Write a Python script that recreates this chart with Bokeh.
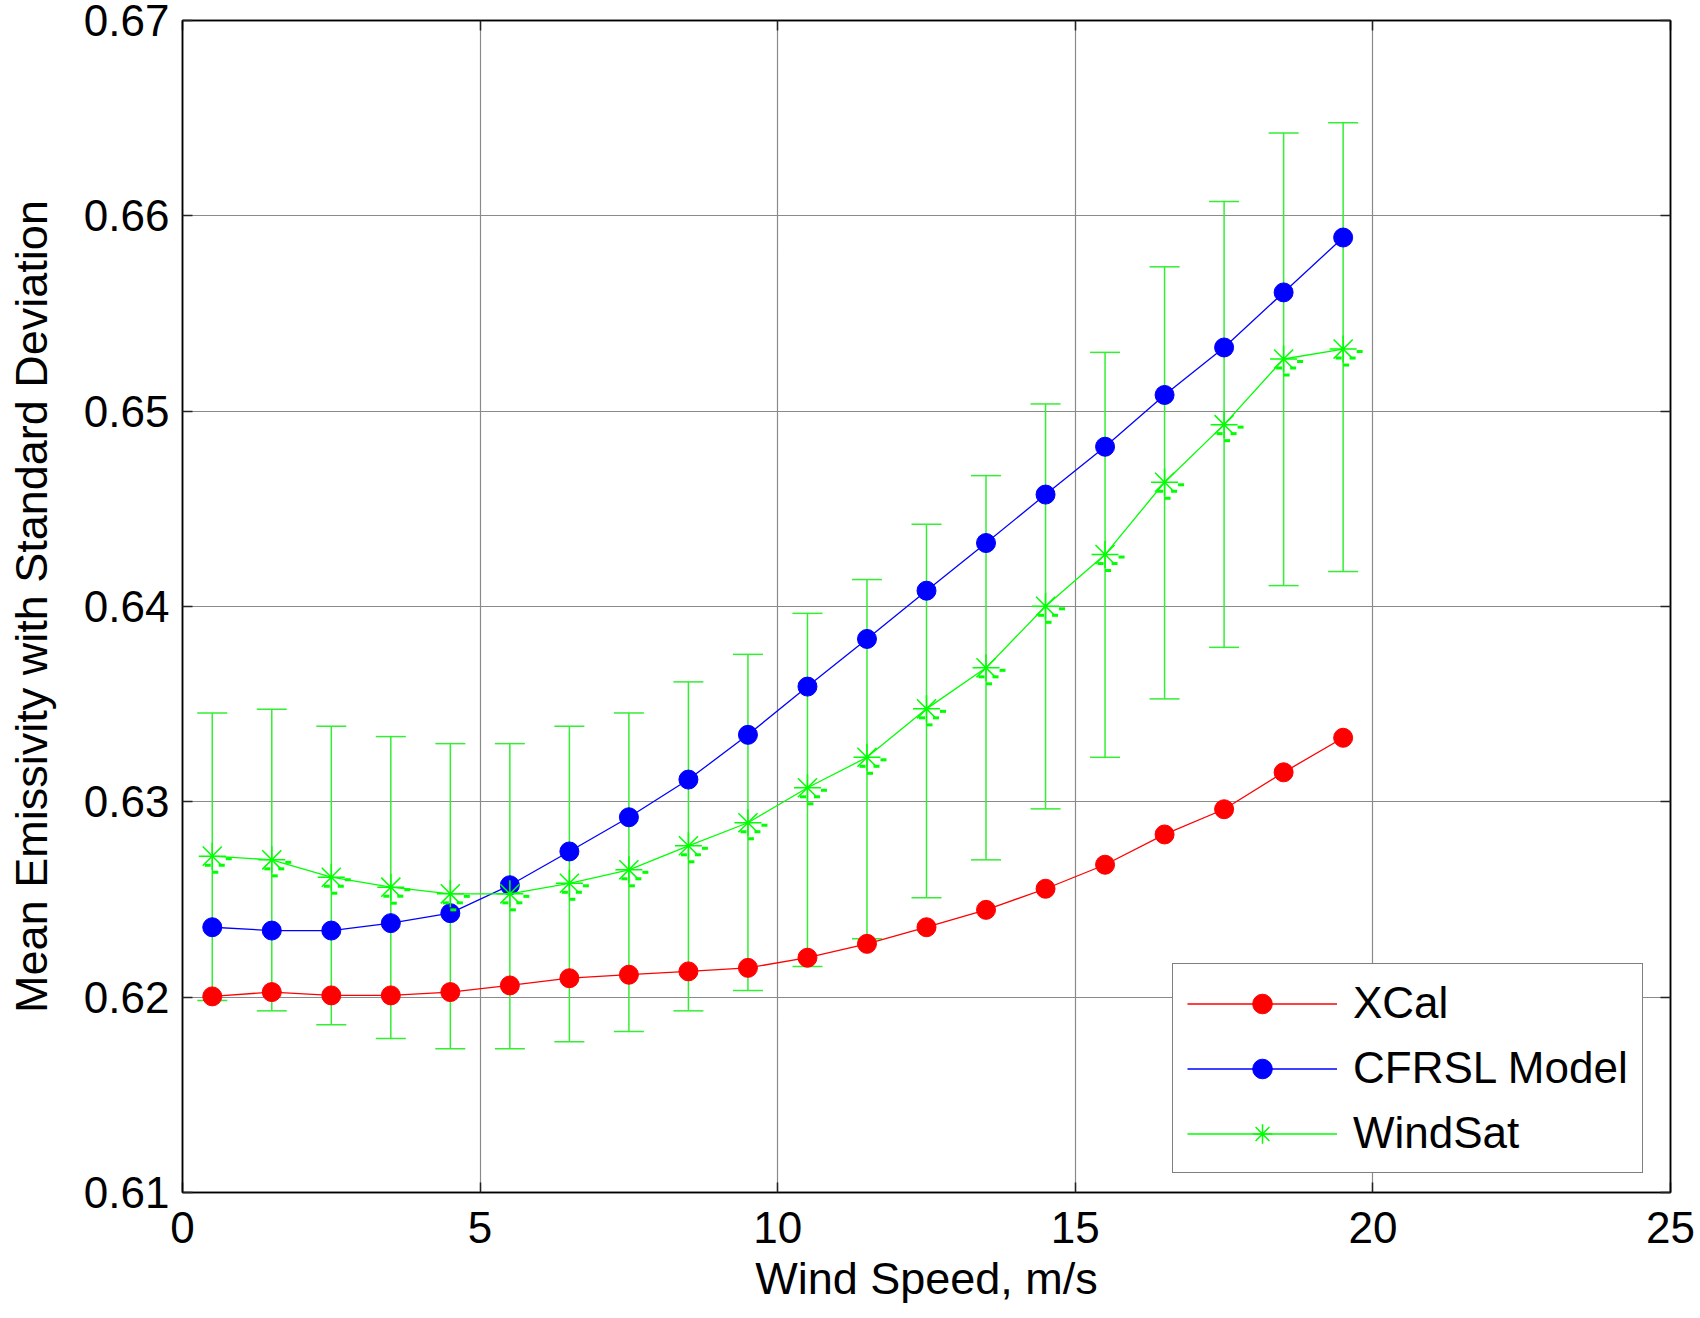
from bokeh.plotting import figure
from bokeh.models import (Range1d, LinearAxis, FixedTicker, PrintfTickFormatter,
                          Whisker, TeeHead, ColumnDataSource, Legend, LegendItem,
                          CustomLabelingPolicy)
from bokeh.embed import file_html
from bokeh.resources import INLINE

# ---------------- data ----------------
wind_speed = [0.5, 1.5, 2.5, 3.5, 4.5, 5.5, 6.5, 7.5, 8.5, 9.5,
              10.5, 11.5, 12.5, 13.5, 14.5, 15.5, 16.5, 17.5, 18.5, 19.5]

xcal = [0.62004, 0.62026, 0.62009, 0.62009, 0.62026, 0.62060, 0.62097, 0.62115, 0.62132, 0.62150,
        0.62202, 0.62273, 0.62358, 0.62447, 0.62555, 0.62678, 0.62833, 0.62962, 0.63151, 0.63328]

cfrsl = [0.62358, 0.62341, 0.62341, 0.62379, 0.62430, 0.62573, 0.62746, 0.62921, 0.63114, 0.63343,
         0.63590, 0.63834, 0.64081, 0.64325, 0.64573, 0.64818, 0.65083, 0.65326, 0.65608, 0.65889]

windsat = [0.62722, 0.62703, 0.62614, 0.62563, 0.62529, 0.62529, 0.62583, 0.62652, 0.62775, 0.62893,
           0.63072, 0.63228, 0.63476, 0.63686, 0.64001, 0.64266, 0.64636, 0.64931, 0.65267, 0.65318]

windsat_upper = [0.63455, 0.63474, 0.63387, 0.63334, 0.63298, 0.63298, 0.63387, 0.63455, 0.63614, 0.63755,
                 0.63965, 0.64138, 0.64421, 0.64670, 0.65037, 0.65301, 0.65739, 0.66073, 0.66424, 0.66476]

windsat_lower = [0.61983, 0.61930, 0.61859, 0.61789, 0.61736, 0.61736, 0.61772, 0.61824, 0.61930, 0.62034,
                 0.62157, 0.62299, 0.62509, 0.62703, 0.62964, 0.63228, 0.63527, 0.63791, 0.64107, 0.64179]

x_ticks = [0, 5, 10, 15, 20, 25]
y_ticks = [0.61, 0.62, 0.63, 0.64, 0.65, 0.66, 0.67]
x_label = "Wind Speed, m/s"
y_label = "Mean Emissivity with Standard Deviation"
series_names = ["XCal", "CFRSL Model", "WindSat"]

# ---------------- layout ----------------
W, H = 1700, 1318
BL, BR, BT, BB = 182, 30, 20, 126
FONT = "Liberation Sans"
X_MIN, X_MAX, Y_MIN, Y_MAX = 0, 25, 0.61, 0.67

p = figure(width=W, height=H, x_range=Range1d(X_MIN, X_MAX), y_range=Range1d(Y_MIN, Y_MAX),
           output_backend="svg", toolbar_location=None,
           min_border_left=BL, min_border_right=BR, min_border_top=BT, min_border_bottom=BB,
           x_axis_label=x_label, y_axis_label=y_label)
p.background_fill_color = "white"
p.border_fill_color = "white"
p.outline_line_color = "black"
p.outline_line_width = 1.5

no_labels = CustomLabelingPolicy(code="""
    for (const i of Array.from(indices)) { indices.unset(i) }
    return indices
""")

def style_axis(ax, ticks, fmt, labels=True):
    ax.ticker = FixedTicker(ticks=ticks)
    ax.formatter = PrintfTickFormatter(format=fmt)
    ax.axis_line_color = "black"
    ax.axis_line_width = 1.5
    ax.major_tick_in = 10
    ax.major_tick_out = 0
    ax.major_tick_line_color = "#222222"
    ax.major_tick_line_width = 1.5
    ax.minor_tick_in = 0
    ax.minor_tick_out = 0
    ax.major_label_text_font = FONT
    ax.major_label_text_color = "black"
    if labels:
        ax.major_label_text_font_size = "44px"
    else:
        ax.major_label_text_font_size = "1px"
        ax.major_label_standoff = 0
        ax.major_label_policy = no_labels

style_axis(p.xaxis[0], x_ticks, "%d")
style_axis(p.yaxis[0], y_ticks, "%.2f")
p.xaxis[0].major_label_standoff = 19
p.yaxis[0].major_label_standoff = 13
for ax in (p.xaxis[0], p.yaxis[0]):
    ax.axis_label_text_font = FONT
    ax.axis_label_text_font_size = "45px"
    ax.axis_label_text_font_style = "normal"
    ax.axis_label_text_color = "black"
p.xaxis[0].axis_label_standoff = 7
p.yaxis[0].axis_label_standoff = 24

top_ax = LinearAxis()
style_axis(top_ax, x_ticks, "%d", labels=False)
p.add_layout(top_ax, "above")
right_ax = LinearAxis()
style_axis(right_ax, y_ticks, "%.2f", labels=False)
p.add_layout(right_ax, "right")

p.xgrid.ticker = FixedTicker(ticks=x_ticks)
p.ygrid.ticker = FixedTicker(ticks=y_ticks)
for g in (p.xgrid[0], p.ygrid[0]):
    g.grid_line_color = "#8a8a8a"
    g.grid_line_width = 1.2
    g.grid_line_alpha = 1.0

# ---------------- error bars ----------------
src = ColumnDataSource(dict(x=wind_speed, xcal=xcal, cfrsl=cfrsl, ws=windsat,
                            upper=windsat_upper, lower=windsat_lower))
eb_color = "#33ee33"
whisk = Whisker(source=src, base="x", upper="upper", lower="lower",
                line_color=eb_color, line_width=1.5,
                upper_head=TeeHead(size=30, line_color=eb_color, line_width=1.5),
                lower_head=TeeHead(size=30, line_color=eb_color, line_width=1.5))
p.add_layout(whisk)

# ---------------- series ----------------
r_line = p.line("x", "xcal", source=src, line_color="#ff0000", line_width=1.3)
r_dot = p.scatter("x", "xcal", source=src, marker="circle", size=19,
                  fill_color="#ff0000", line_color="#ff0000")
b_line = p.line("x", "cfrsl", source=src, line_color="#0000ff", line_width=1.3)
b_dot = p.scatter("x", "cfrsl", source=src, marker="circle", size=19,
                  fill_color="#0000ff", line_color="#0000ff")
g_line = p.line("x", "ws", source=src, line_color="#00ff00", line_width=1.3)
g_star = p.scatter("x", "ws", source=src, marker="asterisk", size=27,
                   line_color="#00ff00", line_width=1.5)

# small dash artefacts that accompany each WindSat marker (pixel offsets from marker)
frame_w = W - BL - BR
frame_h = H - BT - BB
px_x = frame_w / (X_MAX - X_MIN)
px_y = frame_h / (Y_MAX - Y_MIN)
dash_offsets = [(16.5, 2.5), (9.5, 9.0), (-4.5, 9.0), (3.0, 16.0)]
for dx, dy in dash_offsets:
    p.rect([xv + dx / px_x for xv in wind_speed], [yv - dy / px_y for yv in windsat],
           width=6, height=3, width_units="screen", height_units="screen",
           fill_color="#00ff00", line_color=None)

# ---------------- legend ----------------
legend = Legend(items=[
    LegendItem(label=series_names[0], renderers=[r_line, r_dot]),
    LegendItem(label=series_names[1], renderers=[b_line, b_dot]),
    LegendItem(label=series_names[2], renderers=[g_line, g_star]),
], location=(990, 19))
legend.margin = 0
legend.padding = 14
legend.spacing = 15
legend.glyph_width = 150
legend.glyph_height = 49
legend.label_height = 49
legend.label_standoff = 16
legend.label_text_font = FONT
legend.label_text_font_size = "44px"
legend.label_text_color = "black"
legend.border_line_color = "black"
legend.border_line_width = 1.5
legend.background_fill_color = "white"
legend.background_fill_alpha = 1.0
p.add_layout(legend, "center")

open("out.html", "w").write(file_html(p, INLINE))
